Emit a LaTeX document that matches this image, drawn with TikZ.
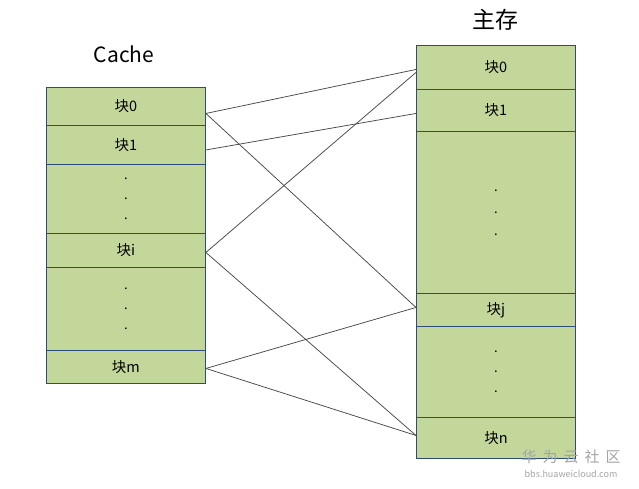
\documentclass[tikz,border=0pt]{standalone}
\usepackage{fontspec}
\setmainfont{Noto Sans CJK SC}
\usetikzlibrary{calc}
\definecolor{cellfill}{HTML}{C4D79B}
\definecolor{celledge}{HTML}{2F4B7C}
\definecolor{wire}{HTML}{484848}
\definecolor{wm}{HTML}{A4A4A4}
\begin{document}
\begin{tikzpicture}[x=1pt,y=-1pt,
  cell/.style={draw=celledge,fill=cellfill,line width=0.9pt,rectangle,inner sep=0pt,
    minimum width=159pt,anchor=north west,font=\fontsize{14.5}{16}\selectfont},
  dots/.style={align=center,font=\fontsize{13}{20}\selectfont},
  wireline/.style={draw=wire,line width=0.75pt},
  title/.style={font=\fontsize{21}{24}\selectfont}]
\useasboundingbox (0,0) rectangle (639,488);
% Cache column
\node[cell,minimum height=38pt] (c0) at (46,87) {块0};
\node[cell,minimum height=39pt] (c1) at (46,125) {块1};
\node[cell,minimum height=69pt,dots] (cd1) at (46,164) {.\\.\\.};
\node[cell,minimum height=34pt] (ci) at (46,233) {块i};
\node[cell,minimum height=83pt,dots] (cd2) at (46,267) {.\\.\\.};
\node[cell,minimum height=33pt] (cm) at (46,350) {块m};
% Main memory column
\node[cell,minimum height=44pt] (m0) at (416,45) {块0};
\node[cell,minimum height=42pt] (m1) at (416,89) {块1};
\node[cell,minimum height=162pt,dots,font=\fontsize{13}{22}\selectfont] (md1) at (416,131) {.\\.\\.};
\node[cell,minimum height=33pt] (mj) at (416,293) {块j};
\node[cell,minimum height=91pt,dots] (md2) at (416,326) {.\\.\\.};
\node[cell,minimum height=41pt] (mn) at (416,417) {块n};
% Titles
\node[title] (tc) at (124,54) {Cache};
\node[title,font=\fontsize{23}{26}\selectfont] (tm) at (495,20) {主存};
% Connectors
\coordinate (a0) at ($(c0.east)+(0,7)$);
\coordinate (a1) at ($(c1.east)+(0,5)$);
\coordinate (ai) at ($(ci.east)+(0,2)$);
\coordinate (am) at ($(cm.east)+(0,1.5)$);
\coordinate (b0a) at ($(m0.west)+(0,2)$);
\coordinate (b0b) at ($(m0.west)+(0,5)$);
\coordinate (b1) at ($(m1.west)+(0,3)$);
\coordinate (bj) at ($(mj.west)+(0,-2.5)$);
\coordinate (bn) at ($(mn.west)+(0,-2.5)$);
\draw[wireline] (a0) -- (b0a);
\draw[wireline] (a0) -- (bj);
\draw[wireline] (a1) -- (b1);
\draw[wireline] (ai) -- (b0b);
\draw[wireline] (ai) -- (bn);
\draw[wireline] (am) -- (bj);
\draw[wireline] (am) -- (bn);
% Watermark
\node[text=wm,font=\fontsize{15}{17}\selectfont] (wm1) at (571,457) {华\hspace{6pt}为\hspace{6pt}云\hspace{6pt}社\hspace{6pt}区};
\node[text=wm,font=\fontsize{9}{10}\selectfont] (wm2) at (571,474) {bbs.huaweicloud.com};
\end{tikzpicture}
\end{document}
